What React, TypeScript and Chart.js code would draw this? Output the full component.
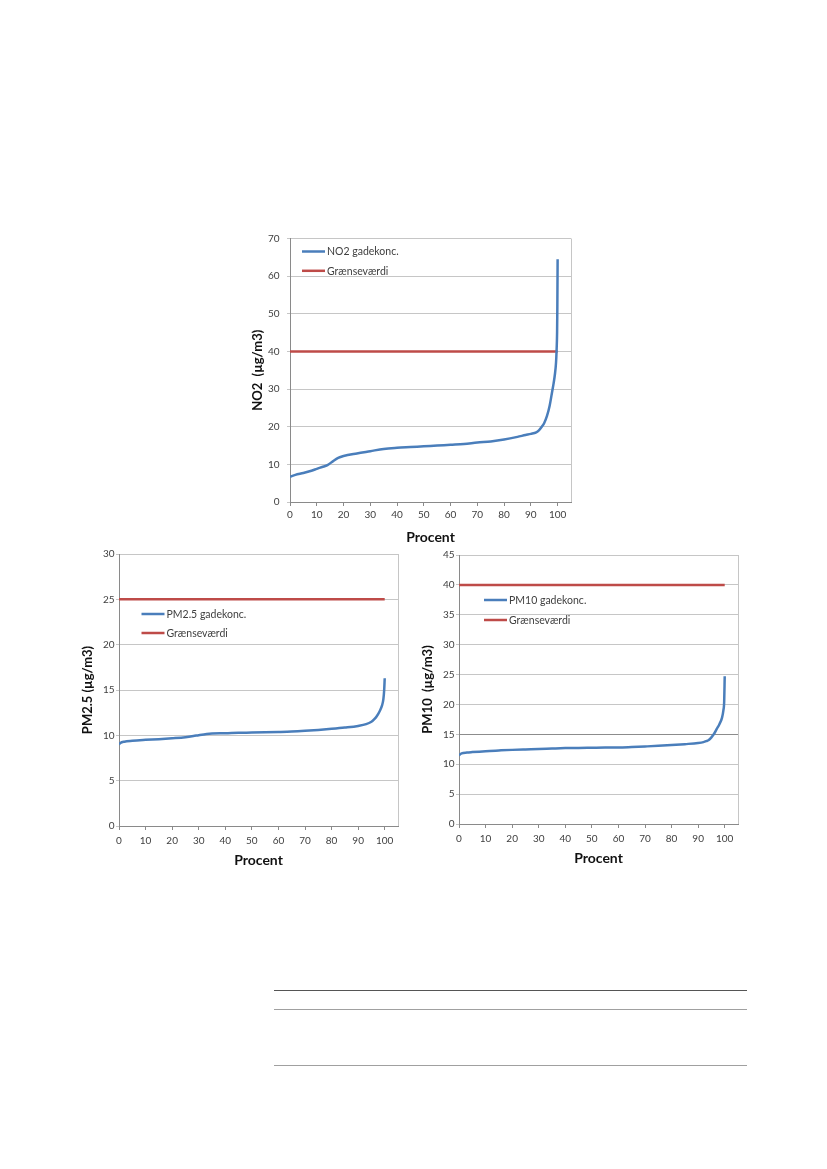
import React, { useEffect, useRef } from 'react';
import { Chart, registerables } from 'chart.js';

Chart.register(...registerables);

// ---------- data ----------
const no2Percent = [0, 2, 5, 8, 10, 12, 14, 16, 18, 20, 25, 30, 35, 40, 45, 50, 55, 60, 65, 70, 75, 80, 85, 88, 90, 92, 93, 94, 95, 96, 97, 98, 98.5, 99, 99.4, 99.6, 99.8, 99.9, 100];
const no2Values = [6.7, 7.2, 7.7, 8.3, 8.8, 9.3, 9.8, 10.8, 11.7, 12.2, 12.9, 13.5, 14.1, 14.4, 14.6, 14.8, 15.0, 15.2, 15.4, 15.8, 16.1, 16.6, 17.3, 17.8, 18.1, 18.5, 19.0, 19.9, 21.0, 22.8, 25.5, 29.5, 31.5, 34.0, 37.0, 40.0, 45.0, 52.0, 64.5];
const no2Limit = 40;

const pm25Percent = [0, 0.5, 2, 5, 10, 15, 20, 25, 28, 30, 33, 35, 40, 45, 50, 55, 60, 65, 70, 75, 80, 85, 90, 93, 95, 96, 97, 98, 99, 99.5, 99.8, 100];
const pm25Values = [9.0, 9.15, 9.3, 9.4, 9.5, 9.58, 9.68, 9.8, 9.92, 10.02, 10.15, 10.2, 10.23, 10.28, 10.3, 10.33, 10.37, 10.42, 10.5, 10.6, 10.72, 10.86, 11.04, 11.23, 11.5, 11.75, 12.1, 12.6, 13.3, 14.0, 15.0, 16.3];
const pm25Limit = 25;

const pm10Percent = [0, 1, 3, 5, 10, 15, 20, 25, 30, 35, 40, 45, 50, 55, 60, 65, 70, 75, 80, 85, 90, 92, 93, 94, 95, 96, 97, 98, 99, 99.5, 99.8, 100];
const pm10Values = [11.5, 11.8, 11.95, 12.03, 12.19, 12.3, 12.4, 12.47, 12.53, 12.62, 12.7, 12.72, 12.75, 12.78, 12.8, 12.88, 12.97, 13.07, 13.2, 13.36, 13.55, 13.7, 13.85, 14.05, 14.5, 15.1, 15.9, 16.7, 17.8, 19.0, 20.5, 24.7];
const pm10Limit = 40;

const limitPercent = [0, 100];
const limitLabel = 'Grænseværdi';
const xTitle = 'Procent';
const xMin = 0;
const xMax = 105;
const xStep = 10;

// ---------- styles ----------
const BLUE = '#4A7EBB';
const RED = '#BE4B48';
const GRID = '#C6C6C6';
const AXIS = '#8A8A8A';
const FONT = 'Lato, "Open Sans", sans-serif';
const TICK_COLOR = '#404040';

const insideLegend = {
  id: 'insideLegend',
  afterDatasetsDraw(chart: any, _args: any, opts: any) {
    const { ctx, chartArea } = chart;
    ctx.save();
    ctx.font = `${opts.fontSize}px ${FONT}`;
    ctx.textBaseline = 'middle';
    ctx.textAlign = 'left';
    chart.data.datasets.forEach((ds: any, i: number) => {
      const x = chartArea.left + opts.dx;
      const y = chartArea.top + opts.dy + i * opts.gap;
      ctx.strokeStyle = ds.borderColor;
      ctx.lineWidth = 2.5;
      ctx.beginPath();
      ctx.moveTo(x, y);
      ctx.lineTo(x + opts.len, y);
      ctx.stroke();
      ctx.fillStyle = TICK_COLOR;
      ctx.fillText(ds.label, x + opts.len + 2, y + 0.5);
    });
    ctx.restore();
  },
};

const frame = {
  id: 'frame',
  beforeDatasetsDraw(chart: any) {
    const { ctx, chartArea } = chart;
    ctx.save();
    ctx.strokeStyle = GRID;
    ctx.lineWidth = 1;
    ctx.beginPath();
    ctx.moveTo(chartArea.right + 0.5, chartArea.top);
    ctx.lineTo(chartArea.right + 0.5, chartArea.bottom);
    ctx.stroke();
    ctx.restore();
  },
};

type Spec = {
  box: { left: number; top: number; w: number; h: number };
  area: { left: number; top: number; right: number; bottom: number };
  percent: number[];
  values: number[];
  limit: number;
  label: string;
  yTitle: string;
  yMax: number;
  yStep: number;
  xTitleCenter: number; // page y
  yTitleCenter: number; // page x
  xTickPad: number;
  yTickPad: number;
  legend: { dx: number; dy: number; gap: number; len: number };
  darkGrid?: number;
};

function CurveChart({ spec }: { spec: Spec }) {
  const ref = useRef<HTMLCanvasElement>(null);
  useEffect(() => {
    const { box, area } = spec;
    const padTop = area.top - box.top;
    const padRight = box.left + box.w - area.right;
    const yWidth = area.left - box.left;
    const xHeight = box.top + box.h - area.bottom;
    const xTitleFont = 14;
    const yTitleFont = 13;
    const xTitlePadBottom = box.top + box.h - spec.xTitleCenter - (xTitleFont * 1.2) / 2;
    const yTitlePadTop = spec.yTitleCenter - box.left - (yTitleFont * 1.2) / 2;

    const chart = new Chart(ref.current as HTMLCanvasElement, {
      type: 'line',
      data: {
        datasets: [
          {
            label: spec.label,
            data: spec.percent.map((x, i) => ({ x, y: spec.values[i] })),
            borderColor: BLUE,
            backgroundColor: BLUE,
            borderWidth: 2.5,
            pointRadius: 0,
            cubicInterpolationMode: 'monotone',
            fill: false,
          },
          {
            label: limitLabel,
            data: limitPercent.map((x) => ({ x, y: spec.limit })),
            borderColor: RED,
            backgroundColor: RED,
            borderWidth: 2.5,
            pointRadius: 0,
            fill: false,
          },
        ],
      },
      options: {
        animation: false,
        responsive: true,
        maintainAspectRatio: false,
        layout: { padding: { top: padTop, right: padRight, left: 0, bottom: 0 } },
        plugins: {
          legend: { display: false },
          tooltip: { enabled: false },
          insideLegend: { ...spec.legend, fontSize: 10.5 },
        } as any,
        scales: {
          x: {
            type: 'linear',
            min: xMin,
            max: xMax,
            ticks: {
              stepSize: xStep,
              includeBounds: false,
              maxRotation: 0,
              autoSkip: false,
              padding: spec.xTickPad,
              color: TICK_COLOR,
              font: { family: FONT, size: 10 },
            },
            grid: { display: true, drawOnChartArea: false, drawTicks: true, tickLength: 4, color: AXIS },
            border: { display: true, color: AXIS, width: 1 },
            title: {
              display: true,
              text: xTitle,
              color: '#111',
              font: { family: FONT, size: xTitleFont, weight: 'bold' },
              padding: { top: 0, bottom: xTitlePadBottom },
            },
            afterFit: (s: any) => {
              s.height = xHeight;
            },
          },
          y: {
            type: 'linear',
            min: 0,
            max: spec.yMax,
            ticks: {
              stepSize: spec.yStep,
              padding: spec.yTickPad,
              color: TICK_COLOR,
              font: { family: FONT, size: 10 },
            },
            grid: {
              color: (c: any) => (spec.darkGrid !== undefined && c.tick && c.tick.value === spec.darkGrid ? '#8C8C8C' : GRID),
              tickColor: GRID,
              tickLength: 3,
              lineWidth: 1,
            },
            border: { display: true, color: AXIS, width: 1 },
            title: {
              display: true,
              text: spec.yTitle,
              color: '#111',
              font: { family: FONT, size: yTitleFont, weight: 'bold' },
              padding: { top: yTitlePadTop, bottom: 0 },
            },
            afterFit: (s: any) => {
              s.width = yWidth;
            },
          },
        },
      } as any,
      plugins: [insideLegend, frame],
    });
    return () => chart.destroy();
  }, [spec]);

  return (
    <div
      style={{
        position: 'absolute',
        left: spec.box.left,
        top: spec.box.top,
        width: spec.box.w,
        height: spec.box.h,
      }}
    >
      <canvas ref={ref} />
    </div>
  );
}

const no2Spec: Spec = {
  box: { left: 240, top: 225, w: 345, h: 325 },
  area: { left: 290, top: 237, right: 571, bottom: 502 },
  percent: no2Percent,
  values: no2Values,
  limit: no2Limit,
  label: 'NO2 gadekonc.',
  yTitle: 'NO2  (µg/m3)',
  yMax: 70,
  yStep: 10,
  xTitleCenter: 537,
  yTitleCenter: 258,
  xTickPad: 2.5,
  yTickPad: 7.5,
  legend: { dx: 12, dy: 13, gap: 19.3, len: 23 },
};

const pm25Spec: Spec = {
  box: { left: 75, top: 545, w: 335, h: 335 },
  area: { left: 119, top: 554, right: 398, bottom: 826 },
  percent: pm25Percent,
  values: pm25Values,
  limit: pm25Limit,
  label: 'PM2.5 gadekonc.',
  yTitle: 'PM2.5 (µg/m3)',
  yMax: 30,
  yStep: 5,
  xTitleCenter: 860,
  yTitleCenter: 88,
  xTickPad: 4.5,
  yTickPad: 1.5,
  legend: { dx: 22.5, dy: 60, gap: 19, len: 23 },
};

const pm10Spec: Spec = {
  box: { left: 415, top: 545, w: 335, h: 335 },
  area: { left: 459, top: 555, right: 738, bottom: 824 },
  percent: pm10Percent,
  values: pm10Values,
  limit: pm10Limit,
  label: 'PM10 gadekonc.',
  yTitle: 'PM10  (µg/m3)',
  yMax: 45,
  yStep: 5,
  xTitleCenter: 858,
  yTitleCenter: 428,
  xTickPad: 4.5,
  yTickPad: 1.5,
  legend: { dx: 25, dy: 45, gap: 20, len: 23 },
  darkGrid: 15,
};

function Rule({ top, color, h }: { top: number; color: string; h: number }) {
  return <div style={{ position: 'absolute', left: 274, top, width: 473, height: h, background: color }} />;
}

export default function App() {
  return (
    <div style={{ position: 'absolute', left: 0, top: 0, width: 827, height: 1169, background: '#fff' }}>
      <CurveChart spec={no2Spec} />
      <CurveChart spec={pm25Spec} />
      <CurveChart spec={pm10Spec} />
      <Rule top={990} color="#555" h={1} />
      <Rule top={1008.5} color="#A0A0A0" h={1.5} />
      <Rule top={1064.5} color="#A0A0A0" h={1.5} />
    </div>
  );
}
